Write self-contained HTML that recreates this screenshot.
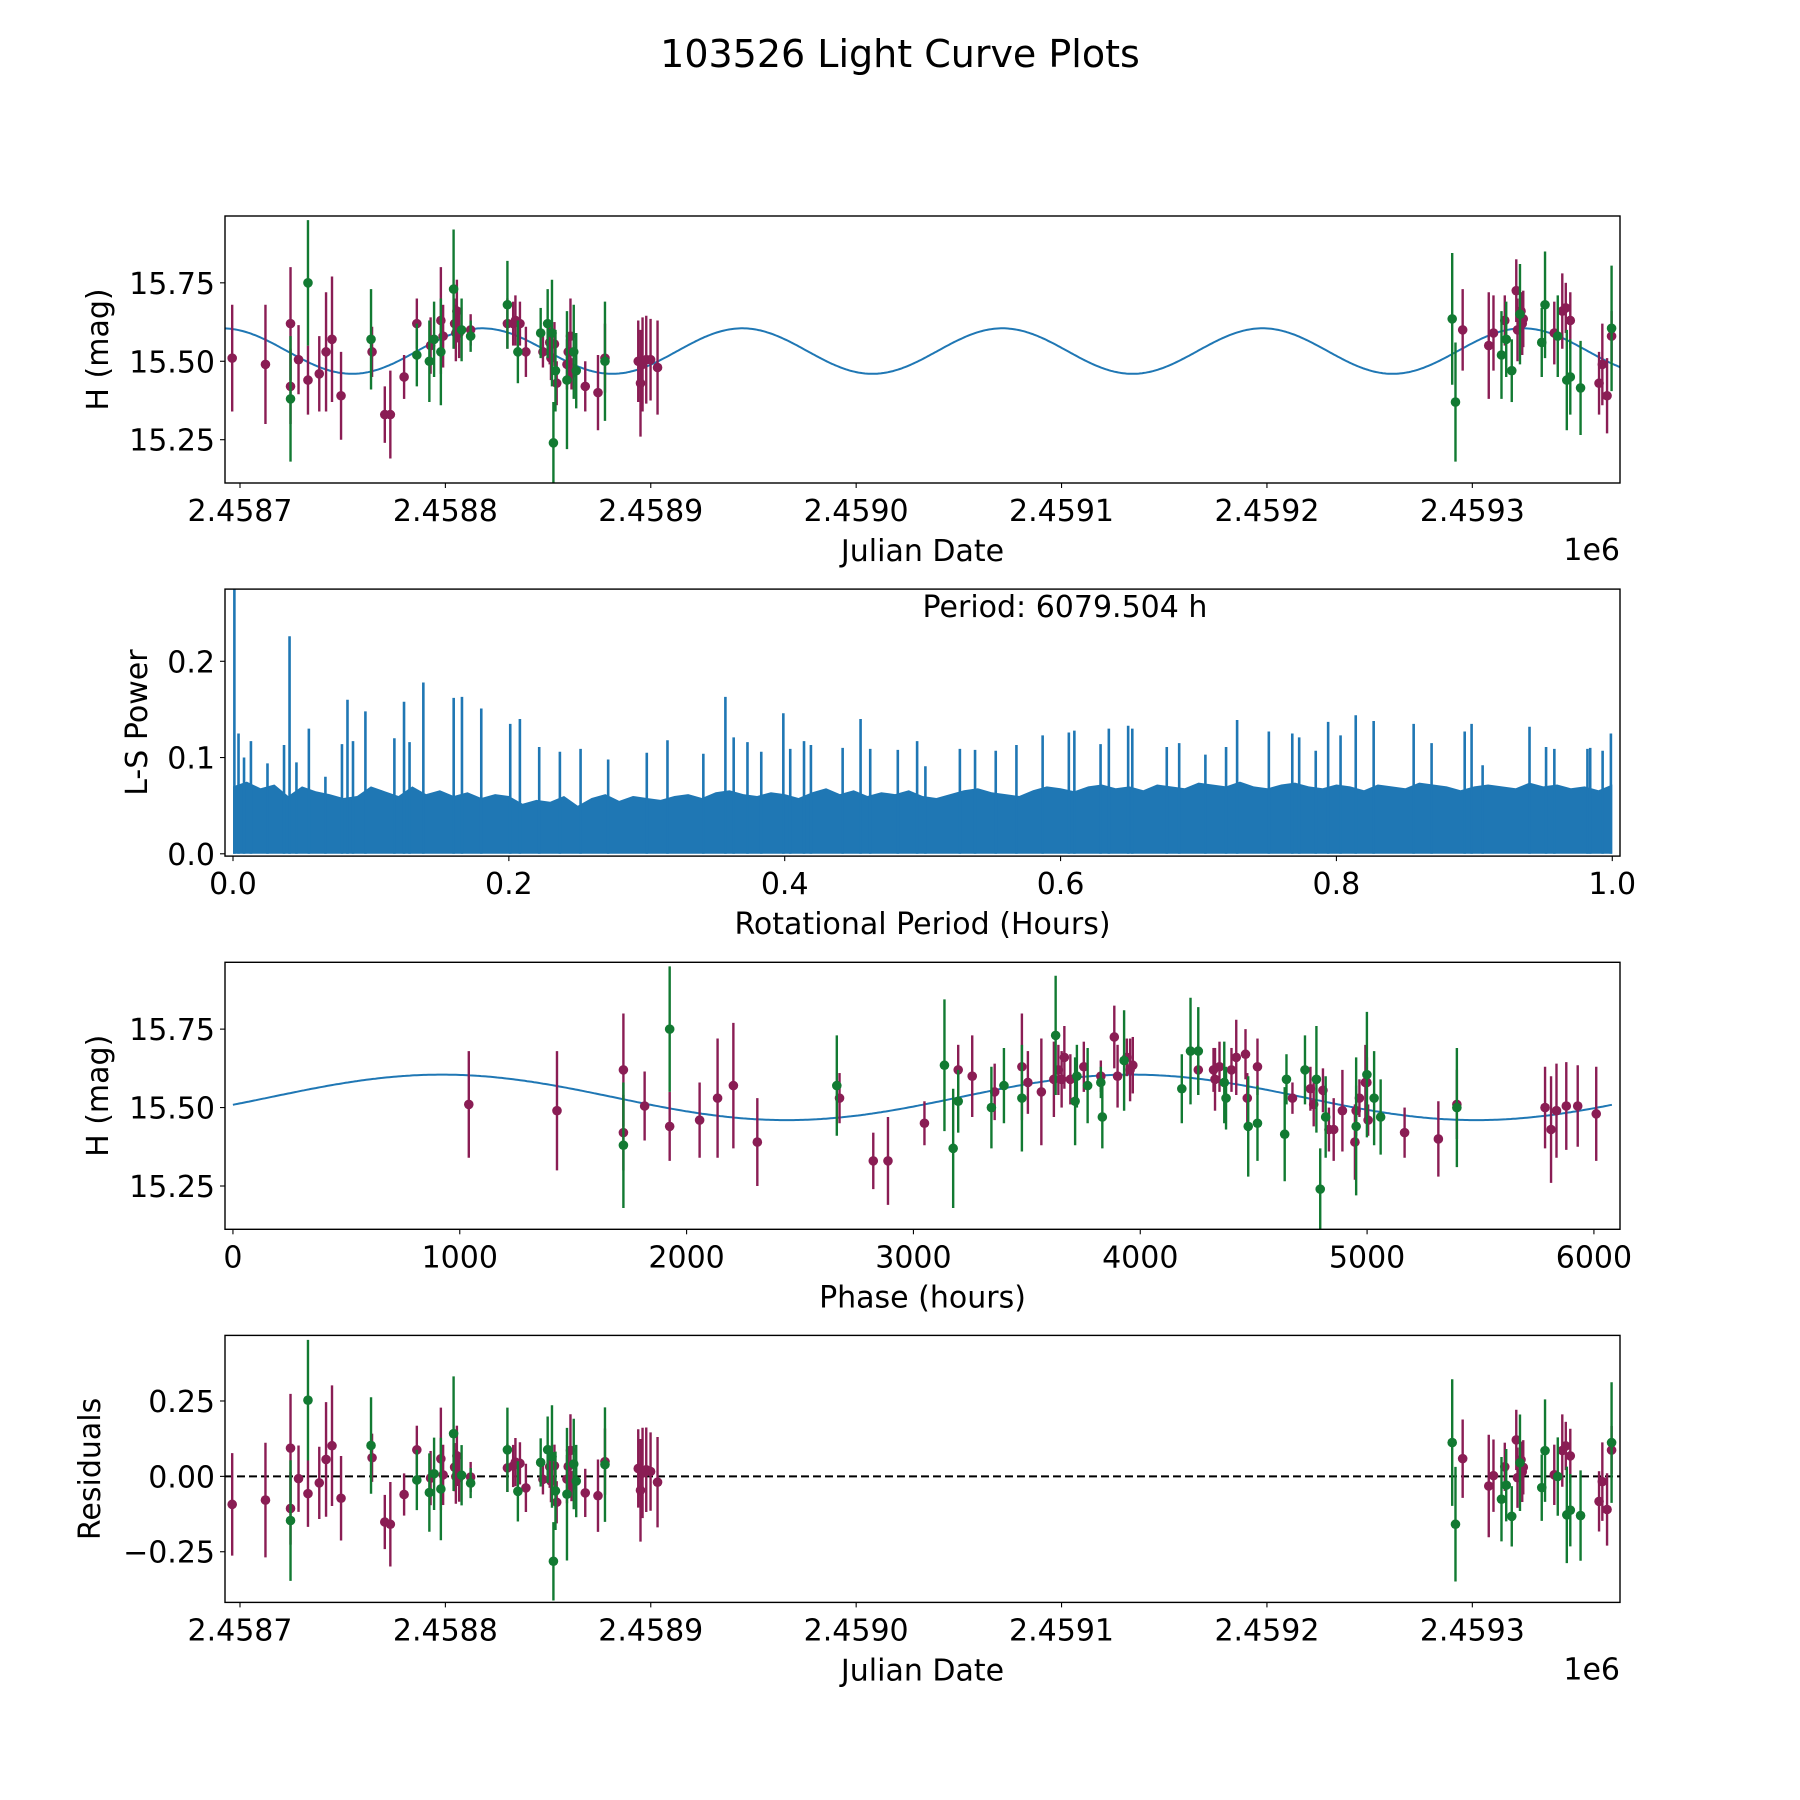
<!DOCTYPE html>
<html><head><meta charset="utf-8"><style>
html,body{margin:0;padding:0;background:#fff}
svg{display:block}
text{font-family:"DejaVu Sans","Liberation Sans",sans-serif;fill:#000}
</style></head><body>
<svg id="fig" width="1800" height="1800" viewBox="0 0 1800 1800" xmlns="http://www.w3.org/2000/svg">
<rect width="1800" height="1800" fill="#fff"/>
<text x="900" y="67" font-size="38" text-anchor="middle">103526 Light Curve Plots</text>
</svg>
<script>
// ---- observation data (days since JD 2458700) ----
const JD_BASE = 2458700;
const obsDay = [-3.8,12.4,24.6,24.6,24.6,28.5,33.1,33.1,38.6,41.9,44.8,49.2,63.8,64.3,70.5,73.2,79.9,86.1,86.1,92.2,92.8,94.5,97.8,97.8,98.9,104.0,104.5,105.1,105.6,106.7,107.9,112.3,112.3,130.2,130.2,133.0,134.1,135.3,136.3,139.2,146.4,147.5,149.8,150.8,151.4,151.9,152.6,153.1,153.6,154.2,159.2,159.2,159.8,160.9,161.4,162.5,163.7,168.1,174.3,177.7,177.7,193.9,195.0,196.0,197.8,199.9,203.3,590.2,591.8,595.3,608.0,610.3,614.2,615.8,616.5,619.2,621.4,622.0,623.2,623.7,624.3,624.8,633.8,635.4,639.9,641.6,643.8,645.5,646.0,647.7,647.7,652.7,661.7,663.3,665.6,667.8,667.8];
const obsMag = [15.51,15.49,15.62,15.42,15.38,15.505,15.75,15.44,15.46,15.53,15.57,15.39,15.57,15.53,15.33,15.33,15.45,15.62,15.52,15.50,15.55,15.57,15.63,15.53,15.58,15.73,15.62,15.59,15.66,15.59,15.60,15.60,15.58,15.68,15.62,15.62,15.63,15.53,15.62,15.53,15.59,15.53,15.62,15.56,15.51,15.59,15.24,15.555,15.47,15.43,15.44,15.49,15.53,15.58,15.46,15.53,15.47,15.42,15.40,15.51,15.50,15.50,15.43,15.49,15.505,15.505,15.48,15.635,15.37,15.60,15.55,15.59,15.52,15.63,15.57,15.47,15.725,15.60,15.65,15.66,15.62,15.635,15.56,15.68,15.59,15.58,15.66,15.67,15.44,15.63,15.45,15.415,15.43,15.49,15.39,15.58,15.605];
const obsErr = [0.17,0.19,0.18,0.12,0.2,0.11,0.2,0.11,0.12,0.19,0.2,0.14,0.16,0.08,0.09,0.14,0.07,0.08,0.1,0.13,0.09,0.12,0.17,0.17,0.1,0.19,0.08,0.09,0.1,0.08,0.1,0.05,0.05,0.14,0.08,0.07,0.08,0.1,0.07,0.08,0.08,0.05,0.11,0.07,0.07,0.17,0.13,0.07,0.13,0.07,0.22,0.08,0.06,0.12,0.05,0.15,0.12,0.08,0.12,0.11,0.19,0.13,0.17,0.15,0.14,0.13,0.15,0.21,0.19,0.13,0.17,0.12,0.14,0.08,0.12,0.1,0.1,0.1,0.16,0.06,0.1,0.09,0.11,0.17,0.1,0.13,0.12,0.08,0.16,0.09,0.12,0.15,0.1,0.13,0.12,0.08,0.2];
const obsBand = ["P","P","P","P","G","P","G","P","P","P","P","P","G","P","P","P","P","P","G","G","P","G","P","G","P","G","P","P","P","P","G","P","G","G","P","P","P","G","P","P","G","P","G","P","P","G","G","P","G","P","G","P","P","P","P","G","G","P","P","P","G","P","P","P","P","P","P","G","G","P","P","P","G","P","G","G","P","P","G","P","P","P","G","G","P","G","P","P","G","P","G","G","P","P","P","P","G"];
// ---- model ----
const modelMean = 15.5325, modelAmp = 0.0725, modelPeakDay = 117.9, foldPeriodH = 6079.504, hoursPerDay = 24, phaseOffsetH = 1131;
// ---- periodogram ----
const bandFreq = Array.from({length:101},(_,i)=>i/100);
const bandPower = [0.07,0.075,0.068,0.072,0.06,0.07,0.065,0.062,0.058,0.06,0.07,
0.065,0.06,0.07,0.062,0.066,0.06,0.064,0.058,0.062,0.06,
0.052,0.056,0.054,0.06,0.05,0.058,0.062,0.055,0.06,0.058,
0.056,0.06,0.062,0.058,0.064,0.066,0.062,0.06,0.064,0.062,
0.058,0.064,0.068,0.062,0.066,0.06,0.064,0.062,0.066,0.06,
0.058,0.062,0.066,0.068,0.064,0.062,0.06,0.066,0.07,0.068,
0.065,0.07,0.072,0.068,0.07,0.066,0.072,0.07,0.068,0.074,
0.072,0.07,0.075,0.07,0.068,0.072,0.074,0.07,0.068,0.072,
0.07,0.066,0.072,0.07,0.068,0.074,0.072,0.07,0.066,0.07,
0.072,0.07,0.068,0.074,0.07,0.072,0.068,0.07,0.066,0.072];
const peakFreq = [0.001,0.004,0.008,0.013,0.025,0.037,0.041,0.046,0.055,0.067,0.079,0.083,0.087,0.096,0.117,0.124,0.128,0.138,0.160,0.166,0.180,0.201,0.208,0.222,0.237,0.252,0.272,0.300,0.315,0.341,0.357,0.363,0.373,0.383,0.399,0.404,0.414,0.419,0.442,0.455,0.462,0.482,0.496,0.502,0.527,0.538,0.553,0.568,0.587,0.606,0.610,0.629,0.635,0.649,0.652,0.677,0.686,0.705,0.720,0.728,0.751,0.768,0.773,0.785,0.794,0.803,0.814,0.827,0.856,0.869,0.893,0.898,0.906,0.940,0.952,0.958,0.982,0.984,0.993,0.999];
const peakPower = [0.30,0.125,0.10,0.117,0.094,0.113,0.226,0.095,0.130,0.080,0.114,0.160,0.117,0.148,0.120,0.158,0.116,0.178,0.162,0.163,0.151,0.135,0.140,0.111,0.106,0.109,0.098,0.105,0.118,0.104,0.163,0.121,0.116,0.106,0.146,0.109,0.117,0.113,0.110,0.140,0.109,0.108,0.117,0.091,0.109,0.108,0.107,0.113,0.123,0.126,0.128,0.114,0.130,0.133,0.130,0.111,0.115,0.103,0.111,0.139,0.127,0.125,0.121,0.107,0.137,0.123,0.144,0.138,0.135,0.115,0.127,0.135,0.092,0.132,0.111,0.109,0.109,0.110,0.107,0.125];
const jdTicks = [2458700,2458800,2458900,2459000,2459100,2459200,2459300];
const jdTickLabels = ["2.4587","2.4588","2.4589","2.4590","2.4591","2.4592","2.4593"];
const magTicks = [15.25,15.5,15.75];
const magTickLabels = ["15.25","15.50","15.75"];
const powTicks = [0,0.1,0.2];
const powTickLabels = ["0.0","0.1","0.2"];
const freqTicks = [0,0.2,0.4,0.6,0.8,1.0];
const freqTickLabels = ["0.0","0.2","0.4","0.6","0.8","1.0"];
const phaseTicks = [0,1000,2000,3000,4000,5000,6000];
const phaseTickLabels = ["0","1000","2000","3000","4000","5000","6000"];
const resTicks = [-0.25,0,0.25];
const resTickLabels = ["\u22120.25","0.00","0.25"];

const NS="http://www.w3.org/2000/svg";
const svg=document.getElementById('fig');
const FS=30;
function mk(tag,attrs,parent){const e=document.createElementNS(NS,tag);for(const k in attrs)e.setAttribute(k,attrs[k]);(parent||svg).appendChild(e);return e;}
const COL={P:"#8a1d54",G:"#127a32"};
const L=225,R=1620,H=267,TOPS=[216,589.1,962.3,1335.4];
const modelPeriodDays=foldPeriodH/2/hoursPerDay;
function model(day){return modelMean+modelAmp*Math.cos(2*Math.PI*(day-modelPeakDay)/modelPeriodDays);}
function phaseOf(day){return ((day*hoursPerDay+phaseOffsetH)%foldPeriodH+foldPeriodH)%foldPeriodH;}
function phaseModel(p){const pk=phaseOf(modelPeakDay);return modelMean+modelAmp*Math.cos(2*Math.PI*(p-pk)/(foldPeriodH/2));}

function makeAxes(i,name,xmin,xmax,ymin,ymax){
  const top=TOPS[i],bot=top+H;
  const g=mk('g',{});
  
  
  const cp=mk('clipPath',{id:'clip'+i},g);
  mk('rect',{x:L,y:top,width:R-L,height:H},cp);
  const plot=mk('g',{'clip-path':'url(#clip'+i+')'},g);
  
  
  return {g,plot,top,bot,
    x:v=>L+(v-xmin)/(xmax-xmin)*(R-L),
    y:v=>bot-(v-ymin)/(ymax-ymin)*H};
}
function frame(ax,name){
  const r=mk('rect',{x:L,y:ax.top,width:R-L,height:H,fill:'none',stroke:'#000','stroke-width':1.4},ax.g);
  
  
}
function xTicks(ax,vals,labels,name){
  vals.forEach((v,k)=>{
    const x=ax.x(v);
    mk('line',{x1:x,x2:x,y1:ax.bot,y2:ax.bot+5,stroke:'#000','stroke-width':1.1},ax.g);
    const t=mk('text',{x:x,y:ax.bot+38,'font-size':FS,'text-anchor':'middle'},ax.g);
    t.textContent=labels[k];
    
    
  });
}
function yTicks(ax,vals,labels,name){
  vals.forEach((v,k)=>{
    const y=ax.y(v);
    mk('line',{x1:L-5,x2:L,y1:y,y2:y,stroke:'#000','stroke-width':1.1},ax.g);
    const t=mk('text',{x:L-10,y:y+11,'font-size':FS,'text-anchor':'end'},ax.g);
    t.textContent=labels[k];
    
    
  });
}
function labels(ax,xl,yl,yx,name){
  const t=mk('text',{x:(L+R)/2,y:ax.bot+78,'font-size':FS,'text-anchor':'middle'},ax.g);
  t.textContent=xl;
  
  
  const cy=(ax.top+ax.bot)/2;
  const u=mk('text',{x:yx,y:cy,'font-size':FS,'text-anchor':'middle',transform:`rotate(-90 ${yx} ${cy})`},ax.g);
  u.textContent=yl;
  
  
}
function offsetText(ax,name){
  const t=mk('text',{x:R,y:ax.bot+77,'font-size':FS,'text-anchor':'end'},ax.g);
  t.textContent='1e6';
  
  
}
function errorbars(ax,xs,ys,name){
  for(const band of ["P","G"]){
    xs.forEach((xv,k)=>{
      if(obsBand[k]!==band)return;
      const x=ax.x(xv),y=ax.y(ys[k]);
      const e=mk('line',{x1:x,x2:x,y1:ax.y(ys[k]-obsErr[k]),y2:ax.y(ys[k]+obsErr[k]),stroke:COL[band],'stroke-width':2.4},ax.plot);
      
      
      const c=mk('circle',{cx:x,cy:y,r:4.8,fill:COL[band]},ax.plot);
      
      
    });
  }
}
const JDMIN=2458692.7,JDMAX=2459371.9;
const days=obsDay;
const jds=days.map(d=>JD_BASE+d);

// Panel 1
const a1=makeAxes(0,'light-curve-panel',JDMIN,JDMAX,15.112,15.963);
{let pts=[];for(let j=0;j<=800;j++){const jd=JDMIN+(JDMAX-JDMIN)*j/800;pts.push(a1.x(jd).toFixed(1)+','+a1.y(model(jd-JD_BASE)).toFixed(1));}
const p=mk('polyline',{points:pts.join(' '),fill:'none',stroke:'#1f77b4','stroke-width':2},a1.plot);

}
errorbars(a1,jds,obsMag,'light-curve');
frame(a1,'light-curve');xTicks(a1,jdTicks,jdTickLabels,'light-curve');yTicks(a1,magTicks,magTickLabels,'light-curve');
labels(a1,'Julian Date','H (mag)',108,'light-curve');offsetText(a1,'light-curve');

// Panel 2
const a2=makeAxes(1,'periodogram-panel',-0.0058,1.0056,-0.0024,0.275);
{let pts=[a2.x(bandFreq[0])+','+a2.y(0)];bandFreq.forEach((f,k)=>pts.push(a2.x(f).toFixed(1)+','+a2.y(bandPower[k]).toFixed(1)));pts.push(a2.x(bandFreq[bandFreq.length-1])+','+a2.y(0));
const p=mk('polygon',{points:pts.join(' '),fill:'#1f77b4'},a2.plot);

}
peakFreq.forEach((f,k)=>{
  const l=mk('line',{x1:a2.x(f),x2:a2.x(f),y1:a2.y(0),y2:a2.y(peakPower[k]),stroke:'#1f77b4','stroke-width':2.6},a2.plot);
  
  
});
frame(a2,'periodogram');xTicks(a2,freqTicks,freqTickLabels,'periodogram');yTicks(a2,powTicks,powTickLabels,'periodogram');
labels(a2,'Rotational Period (Hours)','L-S Power',147,'periodogram');
{const t=mk('text',{x:922.5,y:617,'font-size':FS},a2.g);t.textContent='Period: 6079.504 h';

}

// Panel 3
const a3=makeAxes(2,'phase-panel',-35,6115,15.112,15.963);
{let pts=[];for(let j=0;j<=600;j++){const p=6079.504*j/600;pts.push(a3.x(p).toFixed(1)+','+a3.y(phaseModel(p)).toFixed(1));}
const p=mk('polyline',{points:pts.join(' '),fill:'none',stroke:'#1f77b4','stroke-width':2},a3.plot);

}
errorbars(a3,days.map(phaseOf),obsMag,'phase');
frame(a3,'phase');xTicks(a3,phaseTicks,phaseTickLabels,'phase');yTicks(a3,magTicks,magTickLabels,'phase');
labels(a3,'Phase (hours)','H (mag)',108,'phase');

// Panel 4
const a4=makeAxes(3,'residuals-panel',JDMIN,JDMAX,-0.418,0.4675);
{const z=a4.y(0);const l=mk('line',{x1:L,x2:R,y1:z,y2:z,stroke:'#000','stroke-width':2,'stroke-dasharray':'8,4'},a4.plot);

}
errorbars(a4,jds,obsMag.map((m,k)=>m-model(days[k])),'residuals');
frame(a4,'residuals');xTicks(a4,jdTicks,jdTickLabels,'residuals');yTicks(a4,resTicks,resTickLabels,'residuals');
labels(a4,'Julian Date','Residuals',100,'residuals');offsetText(a4,'residuals');
</script>
</body></html>
